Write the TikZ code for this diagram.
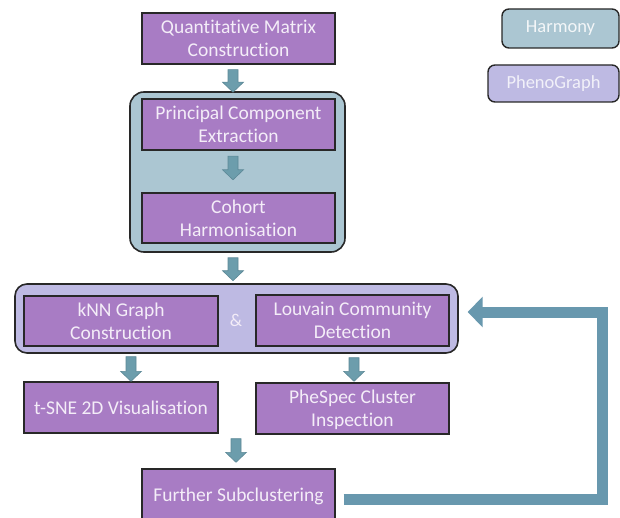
\documentclass[tikz,border=0pt]{standalone}
\usepackage{fontspec}
\setmainfont[Ligatures=NoCommon]{Carlito}
\usetikzlibrary{calc,arrows.meta}
\definecolor{boxfill}{RGB}{168,124,196}
\definecolor{boxtext}{RGB}{244,237,248}
\definecolor{harmfill}{RGB}{171,198,210}
\definecolor{phenofill}{RGB}{190,186,227}
\definecolor{arrowc}{RGB}{108,157,172}
\definecolor{arrowd}{RGB}{92,136,150}
\definecolor{fbc}{RGB}{104,152,174}
\definecolor{edgec}{RGB}{40,40,40}
\newcommand{\blockarrow}[2]{%
  \filldraw[fill=arrowc, draw=arrowd, line width=0.6pt]
  let \p1=#1, \p2=#2 in
  (\x1-5pt,\y1) -- (\x1+5pt,\y1) -- (\x1+5pt,\y2+10pt) -- (\x1+10.5pt,\y2+10pt)
  -- (\x1,\y2) -- (\x1-10.5pt,\y2+10pt) -- (\x1-5pt,\y2+10pt) -- cycle;}
\tikzset{
  stepbox/.style={draw=edgec, line width=1.4pt, fill=boxfill, text=boxtext,
    align=center, font=\fontsize{19.5}{23}\selectfont, inner sep=0pt,
    minimum width=193pt, minimum height=51pt},
  groupbox/.style={draw=edgec, line width=1.6pt, rounded corners=14pt, inner sep=0pt},
  legendbox/.style={draw=edgec, line width=1.4pt, rounded corners=7pt, inner sep=0pt,
    font=\fontsize{18.5}{22}\selectfont}
}
\begin{document}
\begin{tikzpicture}[x=1pt,y=-1pt]
\useasboundingbox (0,0) rectangle (620,518);
\clip (0,0) rectangle (620,518);
\fill[white] (0,0) rectangle (620,518);
% group boxes
\node[groupbox, fill=harmfill, minimum width=215pt, minimum height=160pt] (harm) at (237.5,172) {};
\node[groupbox, fill=phenofill, minimum width=443pt, minimum height=69pt, rounded corners=12pt] (pheno) at (236.5,318.5) {};
% steps
\node[stepbox] (quant) at (238.5,38.5) {Quantitative Matrix\\Construction};
\node[stepbox] (pce) at (238.5,124.5) {Principal Component\\Extraction};
\node[stepbox, minimum height=50pt] (cohort) at (238.5,218) {Cohort\\Harmonisation};
\node[stepbox, minimum width=194pt, minimum height=50pt] (knn) at (121,321) {kNN Graph\\Construction};
\node[stepbox] (louv) at (352.5,320.5) {Louvain Community\\Detection};
\node[font=\fontsize{18}{22}\selectfont, text=boxtext] (amp) at (236,320) {\&};
\node[stepbox, minimum width=194pt] (tsne) at (121,407.5) {t-SNE 2D Visualisation};
\node[stepbox, minimum height=51pt, text depth=0pt] (phespec) at (352.5,408.5) {PheSpec Cluster\\Inspection};
\node[stepbox, minimum height=51pt, text depth=0pt] (further) at (238.5,494.5) {Further Subclustering};
% legend
\node[legendbox, fill=harmfill, text=white!85!harmfill, minimum width=117pt, minimum height=39pt] (lharm) at (560.5,28.5) {Harmony};
\node[legendbox, fill=phenofill, text=white!80!phenofill, minimum width=131pt, minimum height=37pt] (lpheno) at (553.5,83.5) {PhenoGraph};
% block arrows
\blockarrow{($(quant.south)+(-5.5,5)$)}{($(harm.north)+(-4.5,1)$)}
\blockarrow{($(pce.south)+(-5.5,5.5)$)}{($(cohort.north)+(-5.5,-12.5)$)}
\blockarrow{($(harm.south)+(-4.5,5)$)}{($(pheno.north)+(-3.5,-2.5)$)}
\blockarrow{($(knn.south)+(10,10)$)}{($(tsne.north)+(10,0)$)}
\blockarrow{($(louv.south)+(1.5,11)$)}{($(phespec.north)+(1.5,-1)$)}
\blockarrow{($(tsne.south)+(115,5)$)}{($(further.north)+(-2.5,-6)$)}
% feedback loop
\coordinate (fbstart) at ($(further.east)+(8,4.5)$);
\coordinate (fbcorner) at (602,499);
\coordinate (fbend) at ($(louv.east)+(18,-8.5)$);
\draw[fbc, line width=11pt, -{Triangle[width=30pt,length=15pt]}]
  (fbstart) -- (fbcorner) |- (fbend);
\end{tikzpicture}
\end{document}
